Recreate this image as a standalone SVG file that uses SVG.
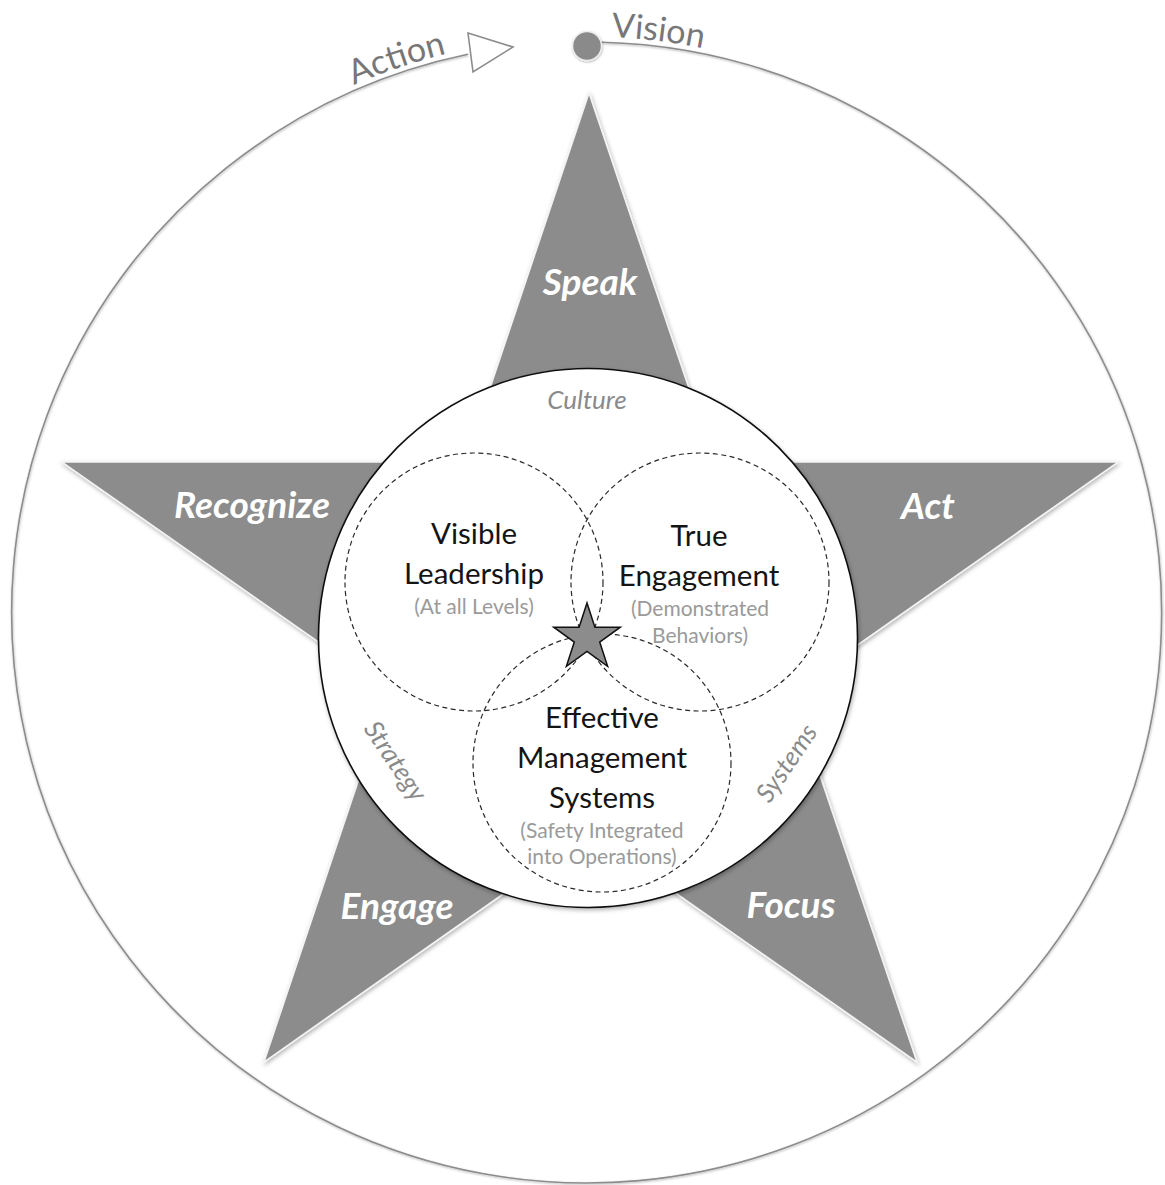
<svg xmlns="http://www.w3.org/2000/svg" width="1165" height="1185" viewBox="0 0 1165 1185">
  <defs>
    <filter id="sh" x="-10%" y="-10%" width="120%" height="120%">
      <feDropShadow dx="1" dy="2" stdDeviation="2" flood-color="#000" flood-opacity="0.3"/>
    </filter>
    <filter id="shs" x="-10%" y="-10%" width="120%" height="120%">
      <feDropShadow dx="0.5" dy="1" stdDeviation="1" flood-color="#000" flood-opacity="0.3"/>
    </filter>
    <path id="ringText" d="M 83.9 324.5 A 581 576 0 0 1 1090.1 324.5"/>
  </defs>
  <style>
    .point { font-family: Lato, "Liberation Sans", sans-serif; font-style: italic; font-weight: bold; font-size: 37px; fill: #ffffff; text-anchor: middle; }
    .main { font-family: Lato, "Liberation Sans", sans-serif; font-size: 29.5px; fill: #141414; text-anchor: middle; }
    .sub { font-family: Lato, "Liberation Sans", sans-serif; font-size: 21px; fill: #9a9a9a; text-anchor: middle; }
    .side { font-family: Lato, "Liberation Sans", sans-serif; font-style: italic; font-size: 26px; fill: #8a8a8a; text-anchor: middle; }
    .ring { font-family: Lato, "Liberation Sans", sans-serif; font-size: 34px; fill: #777777; text-anchor: middle; }
    .dash { fill: none; stroke: #2a2a2a; stroke-width: 1.2; stroke-dasharray: 5 3.5; }
  </style>
  <rect width="1165" height="1185" fill="#ffffff"/>

  <g id="connectors">
    <path d="M 601 42.2 A 575 570.5 0 1 1 468 54.3" fill="none" stroke="#8c8c8c" stroke-width="1.6" filter="url(#shs)"/>
    <polygon points="468,33 513,47 473,72" fill="#ffffff" stroke="#8c8c8c" stroke-width="1.6" stroke-linejoin="miter"/>
  </g>

  <g id="vision-dot">
    <circle cx="587" cy="46" r="14.5" fill="#8a8a8a" stroke="#eeeeee" stroke-width="1.5" filter="url(#shs)"/>
  </g>

  <g id="ring-labels">
    <text class="ring"><textPath href="#ringText" startOffset="416">Action</textPath></text>
    <text class="ring"><textPath href="#ringText" startOffset="677">Vision</textPath></text>
  </g>

  <g id="big-star">
    <polygon points="589,93 713.9,462 1118,462 791.5,691.4 917,1062 590,833 264,1062 388.4,691 62,462 465.2,462" fill="#8c8c8c" stroke="#f4f4f4" stroke-width="1.5" stroke-linejoin="miter" filter="url(#sh)"/>
    <text class="point" x="590" y="295">Speak</text>
    <text class="point" x="252" y="518">Recognize</text>
    <text class="point" x="928" y="519">Act</text>
    <text class="point" x="397" y="919">Engage</text>
    <text class="point" x="791" y="918">Focus</text>
  </g>

  <g id="core-circle">
    <circle cx="588" cy="638" r="269.5" fill="#ffffff" stroke="#111111" stroke-width="1.6" filter="url(#sh)"/>
    <text class="side" x="587" y="409">Culture</text>
    <text class="side" transform="translate(388,766) rotate(56)">Strategy</text>
    <text class="side" transform="translate(794,768) rotate(-56)">Systems</text>
  </g>

  <g id="visible-leadership">
    <circle class="dash" cx="474" cy="582" r="129"/>
    <text class="main" x="474" y="544">Visible</text>
    <text class="main" x="474" y="584">Leadership</text>
    <text class="sub" x="474" y="614">(At all Levels)</text>
  </g>

  <g id="true-engagement">
    <circle class="dash" cx="700" cy="582" r="129"/>
    <text class="main" x="699" y="546">True</text>
    <text class="main" x="699" y="586">Engagement</text>
    <text class="sub" x="700" y="616">(Demonstrated</text>
    <text class="sub" x="700" y="643">Behaviors)</text>
  </g>

  <g id="effective-management">
    <circle class="dash" cx="602" cy="763" r="129"/>
    <text class="main" x="602" y="728">Effective</text>
    <text class="main" x="602" y="768">Management</text>
    <text class="main" x="602" y="808">Systems</text>
    <text class="sub" x="602" y="838">(Safety Integrated</text>
    <text class="sub" x="602" y="864">into Operations)</text>
  </g>

  <g id="center-star">
    <polygon points="587,603 594.9,627.2 620.3,627.2 599.7,642.1 607.6,666.3 587,651.4 566.4,666.3 574.3,642.1 553.7,627.2 579.1,627.2" fill="#8c8c8c" stroke="#111111" stroke-width="1.5" stroke-linejoin="miter"/>
  </g>
</svg>
